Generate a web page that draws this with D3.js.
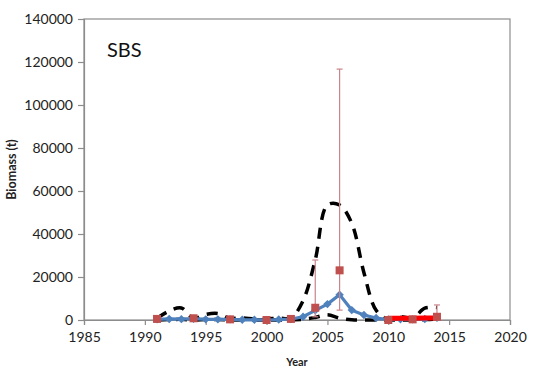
<!DOCTYPE html>
<html>
<head>
<meta charset="utf-8">
<script src="https://cdn.jsdelivr.net/npm/d3@7"></script>
<style>
  html, body { margin: 0; padding: 0; background: #fff; }
  svg { display: block; }
  text { font-family: Lato, "Open Sans", sans-serif; }
</style>
</head>
<body>
<svg id="chart" width="539" height="377"></svg>
<script>
// Annual model estimate (t) with upper and lower bounds
const years = d3.range(1991, 2015);
const estimate = [300, 500, 400, 600, 300, 300, 300, 100, 100, 0, 200, 400,
                  1500, 4500, 7400, 11800, 4600, 2300, 900, 200, 300, 300, 500, 1000];
const upper = [800, 4200, 5600, 800, 2600, 3000, 800, 1000, 500, 500, 900, 900,
               9000, 28000, 53500, 53500, 45000, 22000, 4500, 300, 1500, 900, 5500, 5800];
const lower = [0, 200, 300, 0, 200, 200, 0, 0, 0, 0, 0, 100,
               300, 1200, 2400, 900, 100, 0, 0, 0, 0, 0, 200, 400];

// Survey points with error bars
const surveyYears = [1991, 1994, 1997, 2000, 2002, 2004, 2006, 2010, 2012, 2014];
const surveyValues = [500, 800, 300, 0, 500, 5700, 23100, 0, 300, 1500];
const surveyLow = [300, 500, 100, 0, 300, 1500, 4600, 0, 100, 200];
const surveyHigh = [700, 1100, 500, 0, 700, 27900, 116700, 0, 500, 7000];

// Recent trend line
const trendYears = [2010, 2011, 2012, 2013, 2014];
const trendValues = [800, 800, 800, 900, 900];

const xTicks = [1985, 1990, 1995, 2000, 2005, 2010, 2015, 2020];
const yTicks = [0, 20000, 40000, 60000, 80000, 100000, 120000, 140000];

const svg = d3.select("#chart");
const plotL = 84, plotR = 510, plotT = 19, plotB = 320;

const x = d3.scaleLinear().domain([1985, 2020]).range([plotL, plotR]);
const y = d3.scaleLinear().domain([0, 140000]).range([plotB, plotT]);

// Plot frame
svg.append("rect")
  .attr("x", plotL).attr("y", plotT)
  .attr("width", plotR - plotL).attr("height", plotB - plotT)
  .attr("fill", "none").attr("stroke", "#8c8c8c").attr("stroke-width", 1.2);

// Axes
const yAxis = svg.append("g")
  .attr("transform", `translate(${plotL},0)`)
  .call(d3.axisLeft(y).tickValues(yTicks).tickFormat(d3.format("d")).tickSize(6).tickPadding(5));
const xAxis = svg.append("g")
  .attr("transform", `translate(0,${plotB})`)
  .call(d3.axisBottom(x).tickValues(xTicks).tickFormat(d3.format("d")).tickSize(5).tickPadding(7));
[yAxis, xAxis].forEach(g => {
  g.select(".domain").attr("stroke", "#8c8c8c").attr("stroke-width", 1.2);
  g.selectAll(".tick line").attr("stroke", "#8c8c8c").attr("stroke-width", 1.2);
  g.selectAll(".tick text").attr("fill", "#222").style("font-size", "14px")
    .style("font-family", "Lato, 'Open Sans', sans-serif");
});

// Axis titles
svg.append("text")
  .attr("x", (plotL + plotR) / 2).attr("y", 366)
  .attr("text-anchor", "middle")
  .style("font-size", "11px").style("font-weight", "bold").attr("fill", "#222")
  .text("Year");
svg.append("text")
  .attr("transform", `translate(16,${(plotT + plotB) / 2}) rotate(-90)`)
  .attr("text-anchor", "middle")
  .style("font-size", "12.5px").style("font-weight", "bold").attr("fill", "#222")
  .text("Biomass (t)");

// Panel label
svg.append("text")
  .attr("x", 107).attr("y", 57)
  .style("font-size", "20px").attr("fill", "#111")
  .text("SBS");

// Bounds (smoothed dashed lines)
const smooth = d3.line()
  .x((d, i) => x(years[i]))
  .y(d => y(d))
  .curve(d3.curveCatmullRom.alpha(0.5));
[upper, lower].forEach(series => {
  svg.append("path")
    .attr("d", smooth(series))
    .attr("fill", "none")
    .attr("stroke", "#000")
    .attr("stroke-width", 3.5)
    .attr("stroke-dasharray", "11,8");
});

// Estimate line with diamond markers
const straight = d3.line().x((d, i) => x(years[i])).y(d => y(d));
svg.append("path")
  .attr("d", straight(estimate))
  .attr("fill", "none").attr("stroke", "#4f81bd").attr("stroke-width", 3.2);
svg.selectAll(".diamond")
  .data(estimate).enter().append("path")
  .attr("class", "diamond")
  .attr("transform", (d, i) => `translate(${x(years[i])},${y(d)})`)
  .attr("d", d3.symbol().type(d3.symbolDiamond2).size(45))
  .attr("fill", "#4f81bd");

// Error bars for survey points
const cap = 3;
const eb = svg.append("g").attr("stroke", "#c9858a").attr("stroke-width", 1.2);
surveyYears.forEach((yr, i) => {
  if (surveyHigh[i] === surveyLow[i]) return;
  const cx = x(yr);
  eb.append("line").attr("x1", cx).attr("x2", cx)
    .attr("y1", y(surveyLow[i])).attr("y2", y(surveyHigh[i]));
  eb.append("line").attr("x1", cx - cap).attr("x2", cx + cap)
    .attr("y1", y(surveyHigh[i])).attr("y2", y(surveyHigh[i]));
  eb.append("line").attr("x1", cx - cap).attr("x2", cx + cap)
    .attr("y1", y(surveyLow[i])).attr("y2", y(surveyLow[i]));
});

// Recent trend
const trendLine = d3.line().x((d, i) => x(trendYears[i])).y(d => y(d));
svg.append("path")
  .attr("d", trendLine(trendValues))
  .attr("fill", "none").attr("stroke", "#ff0000").attr("stroke-width", 5);

// Survey markers
svg.selectAll(".sq")
  .data(surveyValues).enter().append("rect")
  .attr("class", "sq")
  .attr("x", (d, i) => x(surveyYears[i]) - 4)
  .attr("y", d => y(d) - 4)
  .attr("width", 8).attr("height", 8)
  .attr("fill", "#c0504d");
</script>
</body>
</html>
